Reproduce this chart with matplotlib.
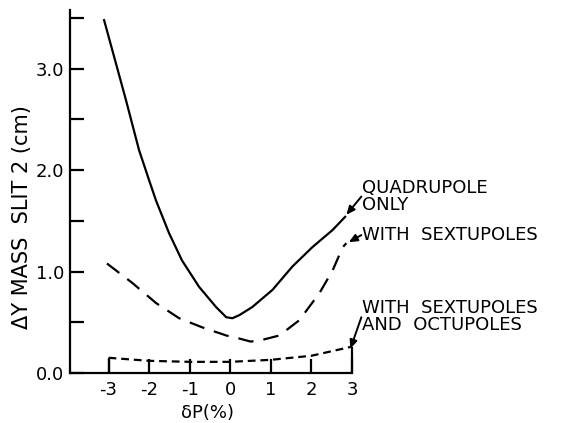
import matplotlib
matplotlib.use("Agg")
import matplotlib.pyplot as plt
from matplotlib.ticker import MultipleLocator

# momentum deviation (%) vs. vertical spread at mass slit 2 (cm)
quad_x = [-3.11, -2.57, -2.25, -2.0, -1.83, -1.51, -1.19, -0.77, -0.35, -0.1, 0.05, 0.22, 0.54, 1.04, 1.53, 2.02, 2.52, 2.83]
quad_y = [3.48, 2.69, 2.20, 1.90, 1.70, 1.38, 1.11, 0.85, 0.65, 0.55, 0.54, 0.57, 0.65, 0.82, 1.05, 1.24, 1.41, 1.54]

sext_x = [-3.04, -2.42, -1.83, -1.26, -0.69, -0.1, 0.22, 0.5, 0.72, 1.21, 1.7, 2.2, 2.52, 2.77, 2.86]
sext_y = [1.08, 0.89, 0.69, 0.54, 0.45, 0.37, 0.34, 0.31, 0.32, 0.37, 0.52, 0.79, 1.01, 1.24, 1.28]

octu_x = [-3, -2, -1, 0, 1, 2, 3]
octu_y = [0.15, 0.12, 0.11, 0.11, 0.13, 0.17, 0.26]

x_ticks = [-3, -2, -1, 0, 1, 2, 3]
x_labels = ["-3", "-2", "-1", "0", "1", "2", "3"]
y_ticks = [0.0, 1.0, 2.0, 3.0]

fig = plt.figure(figsize=(5.61, 4.23), dpi=100)
ax = fig.add_axes([0.1248, 0.1182, 0.5027, 0.8582])

lw = 1.6
ax.plot(quad_x, quad_y, color="black", lw=lw, clip_on=False)
ax.plot(sext_x, sext_y, color="black", lw=lw, dashes=(7, 4.5), clip_on=False)
ax.plot(octu_x, octu_y, color="black", lw=lw, dashes=(3.5, 2.2), clip_on=False)
# end risers of the octupole curve
ax.vlines([octu_x[0], octu_x[-1]], 0, [octu_y[0], octu_y[-1]], color="black", lw=lw, clip_on=False)

ax.set_xlim(-3.95, 3.0)
ax.set_ylim(0, 3.58)

ax.spines["top"].set_visible(False)
ax.spines["right"].set_visible(False)
for s in ("left", "bottom"):
    ax.spines[s].set_linewidth(1.6)

ax.set_xticks(x_ticks)
ax.set_xticklabels(x_labels)
ax.set_yticks(y_ticks)
ax.set_yticklabels([f"{v:.1f}" for v in y_ticks])
ax.yaxis.set_minor_locator(MultipleLocator(0.5))
ax.tick_params(axis="both", which="both", direction="in", length=10, width=1.6,
               labelsize=13)
ax.tick_params(axis="x", pad=6)
ax.tick_params(axis="y", pad=4)

ax.set_xlabel("δP(%)", fontsize=13, va="center")
ax.xaxis.set_label_coords(0.486, -0.11)
ax.set_ylabel("ΔY MASS  SLIT 2 (cm)", fontsize=15, va="center")
ax.yaxis.set_label_coords(-0.17, 0.43)

txt = dict(fontsize=13, ha="left", va="center", linespacing=0.95)
ax.text(3.24, 1.74, "QUADRUPOLE\nONLY", **txt)
ax.text(3.24, 1.36, "WITH  SEXTUPOLES", **txt)
ax.text(3.24, 0.56, "WITH  SEXTUPOLES\nAND  OCTUPOLES", **txt)

arrow = dict(arrowstyle="-|>,head_length=0.5,head_width=0.22", color="black", lw=1.4,
             shrinkA=0, shrinkB=0)
ax.annotate("", xy=(2.86, 1.56), xytext=(3.23, 1.74), arrowprops=arrow, annotation_clip=False)
ax.annotate("", xy=(2.92, 1.29), xytext=(3.23, 1.36), arrowprops=arrow, annotation_clip=False)
ax.annotate("", xy=(2.96, 0.24), xytext=(3.23, 0.55), arrowprops=arrow, annotation_clip=False)

fig.savefig("out.png", dpi=100)
